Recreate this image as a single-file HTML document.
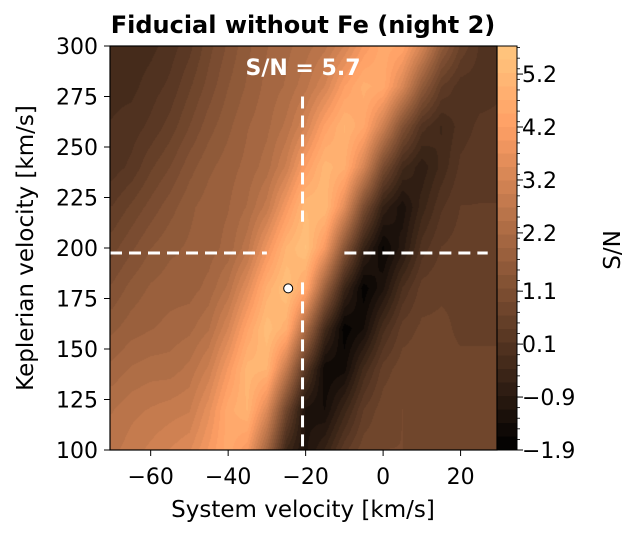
<!DOCTYPE html>
<html><head><meta charset="utf-8">
<style>
body{margin:0;background:#fff;width:639px;height:536px;overflow:hidden;font-family:"Liberation Sans","DejaVu Sans",sans-serif;}
#wrap{position:relative;width:639px;height:536px;}
canvas{position:absolute;left:110px;top:46px;}
svg{position:absolute;left:0;top:0;}
text{font-family:"DejaVu Sans","Liberation Sans",sans-serif;fill:#000;}
</style></head>
<body>
<div id="wrap">
<canvas id="heat" width="387" height="404"></canvas>
<svg id="svg" width="639" height="536"></svg>
</div>
<script>
// x columns (km/s), y rows (km/s), S/N values (rows top->bottom y=300..100)
const xCols = [-70,-65,-60,-55,-50,-45,-40,-35,-30,-25,-20,-15,-10,-5,0,5,10,15,20,25,30];
const yRows = [300,280,260,240,220,200,180,160,140,120,100];
const snRow300 = [-0.2,-0.3,-0.2,0.0,0.3,0.8,1.2,1.6,1.9,2.1,2.3,2.6,3.2,4.0,4.6,4.4,3.2,1.6,0.6,0.1,0.0];
const snRow280 = [-0.2,-0.2,0.0,0.2,0.6,1.0,1.4,1.7,2.0,2.2,2.6,3.2,4.2,4.8,4.6,3.3,1.6,0.4,0.0,0.0,0.1];
const snRow260 = [-0.1,0.0,0.2,0.5,0.9,1.3,1.6,1.9,2.1,2.5,3.2,4.3,5.0,4.5,3.0,1.2,0.0,-0.4,0.0,0.2,0.2];
const snRow240 = [0.0,0.2,0.6,0.9,1.3,1.6,1.8,2.0,2.3,3.0,4.2,5.1,4.8,3.2,1.0,-0.3,-0.8,-0.3,0.2,0.3,0.3];
const snRow220 = [0.4,0.7,1.0,1.3,1.6,1.8,1.9,2.2,2.8,4.0,5.2,5.2,3.5,1.0,-0.7,-1.3,-0.5,0.1,0.4,0.4,0.4];
const snRow200 = [0.8,1.1,1.4,1.6,1.7,1.8,2.0,2.6,3.8,5.0,5.5,4.0,1.4,-0.6,-1.7,-1.0,0.0,0.4,0.5,0.5,0.5];
const snRow180 = [1.2,1.5,1.7,1.8,1.8,2.0,2.5,3.5,4.8,5.5,4.5,1.8,-0.5,-1.8,-1.2,-0.1,0.5,0.6,0.6,0.5,0.5];
const snRow160 = [1.6,1.8,1.9,2.0,2.1,2.4,3.2,4.4,5.4,4.8,2.2,-0.3,-1.8,-1.4,-0.2,0.5,0.7,0.7,0.6,0.6,0.6];
const snRow140 = [2.0,2.2,2.3,2.3,2.5,3.0,4.0,5.1,5.0,2.8,0.2,-1.6,-1.5,-0.3,0.5,0.8,0.8,0.7,0.7,0.7,0.7];
const snRow120 = [2.4,2.6,2.7,2.8,2.9,3.6,4.6,5.0,3.4,0.8,-1.2,-1.4,-0.5,0.4,0.8,0.9,0.8,0.8,0.8,0.8,0.8];
const snRow100 = [2.6,2.8,3.0,3.2,3.4,4.0,4.6,4.0,2.0,-0.4,-1.2,-0.6,0.3,0.8,0.9,0.9,0.8,0.8,0.8,0.8,0.8];
const snGrid = [snRow300,snRow280,snRow260,snRow240,snRow220,snRow200,snRow180,snRow160,snRow140,snRow120,snRow100];
const xTicks = [-60,-40,-20,0,20];
const yTicks = [100,125,150,175,200,225,250,275,300];
const cbTicks = [-1.9,-0.9,0.1,1.1,2.2,3.2,4.2,5.2];
const markerPoint = [-24.5,180];
const crossX = -20.8, crossY = 197.5;

const L=110,R=497,T=46,B=450;
const xMin=-70.5,xMax=29.4,yMin=100,yMax=300,vMin=-1.9,vMax=5.73;
const xs=v=>L+(v-xMin)/(xMax-xMin)*(R-L);
const ys=v=>B-(v-yMin)/(yMax-yMin)*(B-T);
const cs=v=>B-(v-vMin)/(vMax-vMin)*(B-T);
function copper(v){let t=Math.max(0,Math.min(1,(v-vMin)/(vMax-vMin)));
 return [Math.min(1,1.25*t)*255,0.7812*t*255,0.4975*t*255];}
function sample(x,y){
 let fx=(x-xCols[0])/(xCols[1]-xCols[0]); let fy=(yRows[0]-y)/(yRows[0]-yRows[1]);
 fx=Math.max(0,Math.min(xCols.length-1.001,fx)); fy=Math.max(0,Math.min(yRows.length-1.001,fy));
 const i=Math.floor(fx),j=Math.floor(fy),a=fx-i,b=fy-j;
 return snGrid[j][i]*(1-a)*(1-b)+snGrid[j][i+1]*a*(1-b)+snGrid[j+1][i]*(1-a)*b+snGrid[j+1][i+1]*a*b;}
const cv=document.getElementById('heat'),ctx=cv.getContext('2d');
const img=ctx.createImageData(cv.width,cv.height);
const step=(vMax-vMin)/30;
for(let py=0;py<cv.height;py++)for(let px=0;px<cv.width;px++){
 const x=xMin+(px+0.5)/cv.width*(xMax-xMin), y=yMax-(py+0.5)/cv.height*(yMax-yMin);
 let v=sample(x,y); v=vMin+Math.floor((v-vMin)/step)*step+step/2;
 const c=copper(v),k=(py*cv.width+px)*4;
 img.data[k]=c[0];img.data[k+1]=c[1];img.data[k+2]=c[2];img.data[k+3]=255;}
ctx.putImageData(img,0,0);

const svg=document.getElementById('svg');const NS='http://www.w3.org/2000/svg';
function mk(tag,attrs,txt){const e=document.createElementNS(NS,tag);for(const k in attrs)e.setAttribute(k,attrs[k]);if(txt!==undefined)e.textContent=txt;svg.appendChild(e);return e;}
const defs=mk('defs',{});
const lg=document.createElementNS(NS,'linearGradient');lg.setAttribute('id','cg');lg.setAttribute('x1','0');lg.setAttribute('y1','1');lg.setAttribute('x2','0');lg.setAttribute('y2','0');defs.appendChild(lg);
for(let i=0;i<30;i++){const v=vMin+i*step;const c=copper(v+step/2);
 const s1=document.createElementNS(NS,'stop');s1.setAttribute('offset',i/30);s1.setAttribute('stop-color',`rgb(${c[0]|0},${c[1]|0},${c[2]|0})`);lg.appendChild(s1);
 const s2=document.createElementNS(NS,'stop');s2.setAttribute('offset',(i+1)/30);s2.setAttribute('stop-color',`rgb(${c[0]|0},${c[1]|0},${c[2]|0})`);lg.appendChild(s2);}
let e;
e=mk('rect',{x:497,y:46,width:20,height:404,fill:'url(#cg)',stroke:'#000','stroke-width':1});


for(let v=vMin;v<vMax;v+=0.2){const y=cs(v);e=mk('line',{x1:517,x2:520,y1:y,y2:y,stroke:'#000','stroke-width':0.8});

}
cbTicks.forEach(v=>{const y=cs(v);
 e=mk('line',{x1:517,x2:523,y1:y,y2:y,stroke:'#000','stroke-width':1});
 
 
 e=mk('text',{x:522,y:y+8,'font-size':22},String(v).replace('-','\u2212'));
 
 });
e=mk('text',{x:620,y:250,'font-size':23,transform:'rotate(-90 620 250)','text-anchor':'middle'},'S/N');


const dash={stroke:'#fff','stroke-width':3,'stroke-dasharray':'12,7',fill:'none'};
e=mk('line',Object.assign({x1:xs(crossX),x2:xs(crossX),y1:ys(275),y2:ys(213)},dash));


e=mk('line',Object.assign({x1:xs(crossX),x2:xs(crossX),y1:ys(183),y2:ys(100)},dash));


e=mk('line',Object.assign({x1:xs(-70.5),x2:xs(-30),y1:ys(crossY),y2:ys(crossY)},dash));


e=mk('line',Object.assign({x1:xs(-10),x2:xs(27),y1:ys(crossY),y2:ys(crossY)},dash));


e=mk('circle',{cx:xs(markerPoint[0]),cy:ys(markerPoint[1]),r:4.5,fill:'#fff',stroke:'#000','stroke-width':1});


e=mk('text',{x:303,y:75,'font-size':22,'font-weight':'bold','text-anchor':'middle',style:'fill:#fff'},'S/N = 5.7');


e=mk('rect',{x:110,y:46,width:387,height:404,fill:'none',stroke:'#000','stroke-width':1.2});


xTicks.forEach(v=>{const x=xs(v);
 e=mk('line',{x1:x,x2:x,y1:450,y2:456,stroke:'#000','stroke-width':1});
 
 
 e=mk('text',{x:x,y:484,'font-size':22,'text-anchor':'middle'},String(v).replace('-','\u2212'));
 
 });
yTicks.forEach(v=>{const y=ys(v);
 e=mk('line',{x1:104,x2:110,y1:y,y2:y,stroke:'#000','stroke-width':1});
 
 
 e=mk('text',{x:98,y:y+8,'font-size':22,'text-anchor':'end'},String(v));
 
 });
e=mk('text',{x:303,y:517,'font-size':23,'text-anchor':'middle'},'System velocity [km/s]');


e=mk('text',{x:33,y:248,'font-size':23,'text-anchor':'middle',transform:'rotate(-90 33 248)'},'Keplerian velocity [km/s]');


e=mk('text',{x:303,y:33,'font-size':24,'font-weight':'bold','text-anchor':'middle'},'Fiducial without Fe (night 2)');


</script>
</body></html>
